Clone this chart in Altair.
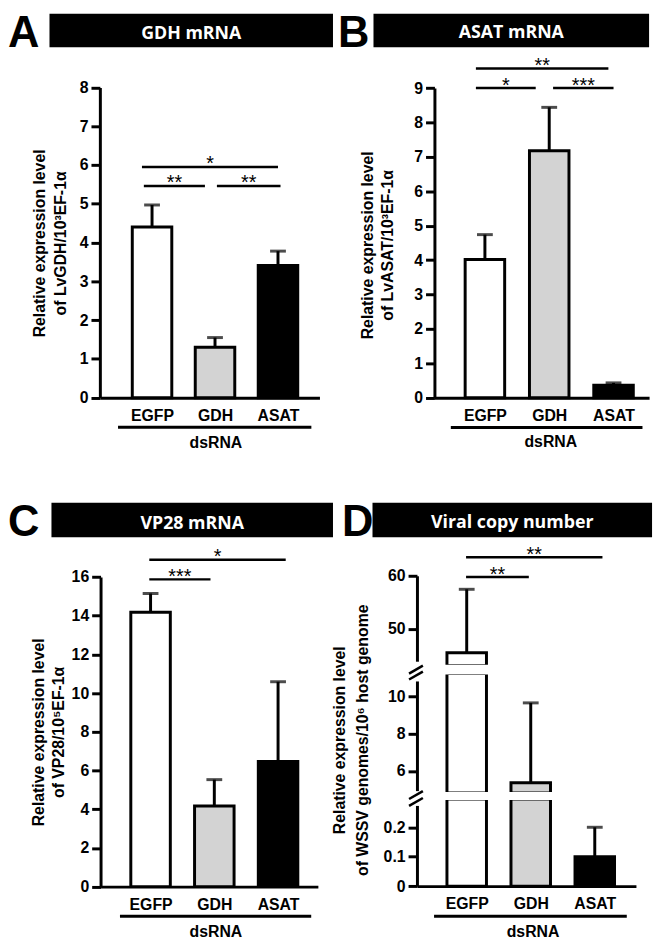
import json
import altair as alt
import pandas as pd

# ---------------- data ----------------
categories = ["EGFP", "GDH", "ASAT"]
bar_fills = ["#ffffff", "#d3d3d3", "#000000"]

panel_letters = ["A", "B", "C", "D"]
panel_titles = ["GDH mRNA", "ASAT mRNA", "VP28 mRNA", "Viral copy number"]
y_title_line1 = "Relative  expression  level"
y_title_line2 = ["of LvGDH/10³EF-1α", "of LvASAT/10³EF-1α",
                 "of VP28/10⁵EF-1α", "of WSSV genomes/10⁶  host genome"]
group_label = "dsRNA"

# A: GDH mRNA
gdh_mean = [4.40, 1.30, 3.41]
gdh_sd = [0.57, 0.25, 0.37]
# B: ASAT mRNA
asat_mean = [4.02, 7.18, 0.36]
asat_sd = [0.72, 1.26, 0.07]
# C: VP28 mRNA
vp28_mean = [14.18, 4.17, 6.47]
vp28_sd = [0.97, 1.36, 4.12]
# D: viral copy number
wssv_mean = [45.5, 5.37, 0.10]
wssv_sd = [11.95, 4.28, 0.10]

# significance brackets (category-index units), level and label
gdh_sig_from = [-0.13, 1.03, -0.16]
gdh_sig_to = [0.84, 2.04, 2.00]
gdh_sig_y = [5.46, 5.46, 5.95]
gdh_sig_text = ["**", "**", "*"]

asat_sig_from = [-0.14, 1.06, -0.14]
asat_sig_to = [0.79, 2.00, 1.92]
asat_sig_y = [9.0, 9.0, 9.57]
asat_sig_text = ["*", "***", "**"]

vp28_sig_from = [-0.02, -0.02]
vp28_sig_to = [0.94, 2.12]
vp28_sig_y = [15.88, 16.9]
vp28_sig_text = ["***", "*"]

wssv_sig_from = [-0.01, -0.01]
wssv_sig_to = [0.97, 2.12]
wssv_sig_y = [59.76, 63.48]
wssv_sig_text = ["**", "**"]

# axis ticks
gdh_ticks = list(range(0, 9))
asat_ticks = list(range(0, 10))
vp28_ticks = list(range(0, 17, 2))
wssv_ticks_high = [50, 60]
wssv_ticks_mid = [6, 8, 10]
wssv_ticks_low = [0, 0.1, 0.2]
# visible pieces of the broken axis in panel D
wssv_dom_high = [43.05, 60]
wssv_dom_mid = [4.82, 11.22]
wssv_dom_low = [0, 0.296]

# extent of the "dsRNA" group bracket (category-index units)
gdh_group = [-0.54, 2.53]
asat_group = [-0.53, 2.45]
vp28_group = [-0.48, 2.52]
wssv_group = [-0.51, 2.50]

# ---------------- style / layout ----------------
W, H = 656, 937
OFF = 8
FONT = "Liberation Sans"
INK = "black"
LABEL_EXPR = json.dumps(categories) + "[round(datum.value)]"


def c(v):
    return v - OFF


def y_axis(values, axis_px, title=None, tx=0, ty=0, lh=21):
    kw = dict(values=values, orient="left", offset=-c(axis_px),
              labelExpr="datum.value + ''",
              grid=False, domainColor=INK, domainWidth=3, tickColor=INK,
              tickWidth=3, tickSize=9, labelFont=FONT, labelFontWeight="bold",
              labelFontSize=16, labelColor=INK, labelPadding=3)
    if title is None:
        kw["title"] = None
    else:
        kw.update(title=title, titleX=tx, titleY=c(ty), titleAngle=270,
                  titleAlign="center", titleBaseline="alphabetic",
                  titleFont=FONT, titleFontWeight="bold", titleFontSize=16,
                  titleColor=INK, titleLineHeight=lh)
    return alt.Axis(**kw)


def x_axis(axis_py, title_px, title_dy):
    return alt.Axis(values=[0, 1, 2], orient="bottom", offset=c(axis_py) - H,
                    labelExpr=LABEL_EXPR, ticks=False, tickSize=0, grid=False,
                    domainColor=INK, domainWidth=3, labelFont=FONT,
                    labelFontWeight="bold", labelFontSize=16, labelColor=INK,
                    labelPadding=10, labelAngle=0, labelFlush=False,
                    title=group_label, titleX=c(title_px), titleY=title_dy,
                    titleAlign="center", titleBaseline="middle", titleFont=FONT,
                    titleFontWeight="bold", titleFontSize=16, titleColor=INK)


def scale(dom, rng_page):
    return alt.Scale(domain=dom, range=[c(v) for v in rng_page], nice=False, zero=False)


def panel(bar_df, err_df, sig_df, group_df, xs, xa, ys, ya, group_py):
    def ex(f):
        return alt.X(f + ":Q", scale=xs, axis=xa)

    def ey(f):
        return alt.Y(f + ":Q", scale=ys, axis=ya)

    layers = [
        alt.Chart(bar_df).mark_bar(size=40, stroke=INK, strokeWidth=3).encode(
            x=ex("idx"), y=ey("top"), y2="bot", fill=alt.Fill("fill:N", scale=None)),
    ]
    if err_df is not None and len(err_df):
        layers += [
            alt.Chart(err_df).mark_rule(color=INK, strokeWidth=3).encode(
                x=ex("idx"), y=ey("mean"), y2="upper"),
            alt.Chart(err_df).mark_tick(orient="horizontal", size=16, thickness=3,
                                        color=INK).encode(x=ex("idx"), y=ey("upper")),
        ]
    if sig_df is not None:
        layers += [
            alt.Chart(sig_df).mark_rule(color=INK, strokeWidth=2.5).encode(
                x=ex("from"), x2="to", y=ey("level")),
            alt.Chart(sig_df).mark_text(font=FONT, fontSize=20, color=INK, align="center",
                                        baseline="alphabetic", dy=3.5).encode(
                x=ex("mid"), y=ey("level"), text="stars:N"),
        ]
    if group_df is not None:
        layers.append(
            alt.Chart(group_df).mark_rule(color=INK, strokeWidth=3).encode(
                x=ex("from"), x2="to", y=alt.value(c(group_py))))
    return alt.layer(*layers)


def std_bars(mean):
    return pd.DataFrame({"idx": [0, 1, 2], "fill": bar_fills, "top": mean, "bot": [0, 0, 0]})


def errs(mean, sd):
    return pd.DataFrame({"idx": [0, 1, 2], "mean": mean,
                         "upper": [m + s for m, s in zip(mean, sd)]})


def sigs(frm, to, lev, txt):
    return pd.DataFrame({"from": frm, "to": to, "level": lev, "stars": txt,
                         "mid": [(a + b) / 2 for a, b in zip(frm, to)]})


def group(span):
    return pd.DataFrame({"from": [span[0]], "to": [span[1]]})


# ---- Panel A ----
pA = panel(std_bars(gdh_mean), errs(gdh_mean, gdh_sd),
           sigs(gdh_sig_from, gdh_sig_to, gdh_sig_y, gdh_sig_text), group(gdh_group),
           scale([-0.75, 2.58], [101, 323.3]), x_axis(396.7, 218, 45),
           scale([0, 8], [396.7, 82.7]),
           y_axis(gdh_ticks, 101, [y_title_line1, y_title_line2[0]], -56, 240, 21),
           426.7)
# ---- Panel B ----
pB = panel(std_bars(asat_mean), errs(asat_mean, asat_sd),
           sigs(asat_sig_from, asat_sig_to, asat_sig_y, asat_sig_text), group(asat_group),
           scale([-0.708, 2.476], [439.7, 657]), x_axis(396.7, 557, 44.5),
           scale([0, 9], [396.7, 83.3]),
           y_axis(asat_ticks, 439.7, [y_title_line1, y_title_line2[1]], -63, 242, 21),
           427)
# ---- Panel C ----
pC = panel(std_bars(vp28_mean), errs(vp28_mean, vp28_sd),
           sigs(vp28_sig_from, vp28_sig_to, vp28_sig_y, vp28_sig_text), group(vp28_group),
           scale([-0.707, 2.547], [101.7, 321.7]), x_axis(891.7, 218, 45.3),
           scale([0, 16], [891.7, 578.3]),
           y_axis(vp28_ticks, 101.7, [y_title_line1, y_title_line2[2]], -58, 735, 21),
           921.7)


# ---- Panel D (broken axis: three pieces) ----
def wssv_piece(dom):
    lo, hi = dom
    rows = [i for i in range(3) if wssv_mean[i] > lo]
    bar = pd.DataFrame({"idx": rows, "fill": [bar_fills[i] for i in rows],
                        "top": [min(wssv_mean[i], hi) for i in rows],
                        "bot": [max(lo, 0) for _ in rows]})
    ei = [i for i in range(3) if lo < wssv_mean[i] <= hi]
    err = pd.DataFrame({"idx": ei, "mean": [wssv_mean[i] for i in ei],
                        "upper": [wssv_mean[i] + wssv_sd[i] for i in ei]})
    return bar, err


xD = [-0.70, 2.566]
xDr = [422, 643.7]
b1, e1 = wssv_piece(wssv_dom_high)
pD1 = panel(b1, e1, sigs(wssv_sig_from, wssv_sig_to, wssv_sig_y, wssv_sig_text), None,
            scale(xD, xDr), None, scale(wssv_dom_high, [668, 577]),
            y_axis(wssv_ticks_high, 422), 0)
b2, e2 = wssv_piece(wssv_dom_mid)
pD2 = panel(b2, e2, None, None, scale(xD, xDr), None, scale(wssv_dom_mid, [797, 676]),
            y_axis(wssv_ticks_mid, 422, [y_title_line1, y_title_line2[3]], -73, 743, 23), 0)
b3, e3 = wssv_piece(wssv_dom_low)
pD3 = panel(b3, e3, None, group(wssv_group), scale(xD, xDr), x_axis(891.2, 539, 45.8),
            scale(wssv_dom_low, [891.2, 803]), y_axis(wssv_ticks_low, 422), 921.7)

# ---------------- decorations (pixel space) ----------------
def pix(df):
    return df.apply(lambda s: s.map(c) if s.dtype.kind in "fi" else s)


NX = dict(scale=None, axis=None)

hdr = pix(pd.DataFrame({"x": [50, 378, 52, 377], "x2": [337, 657, 337, 660],
                        "y": [8, 8, 503, 503], "y2": [42, 42, 538, 538]}))
hdr_boxes = alt.Chart(hdr).mark_rect(color=INK).encode(
    x=alt.X("x:Q", **NX), x2="x2", y=alt.Y("y:Q", **NX), y2="y2")

hdr_txt = pix(pd.DataFrame({"x": [193.5, 517.5, 194.5, 518.5],
                            "y": [33.3, 33.0, 529.3, 528.3]}))
hdr_txt["t"] = panel_titles
hdr_text = alt.Chart(hdr_txt).mark_text(font="Open Sans", fontWeight="bold", fontSize=18,
                                         color="white", align="center",
                                         baseline="alphabetic").encode(
    x=alt.X("x:Q", **NX), y=alt.Y("y:Q", **NX), text="t:N")

let = pix(pd.DataFrame({"x": [8, 342, 8, 346], "y": [42, 42, 537, 537]}))
let["t"] = panel_letters
letters = alt.Chart(let).mark_text(font=FONT, fontWeight="bold", fontSize=44, color=INK,
                                   align="left", baseline="alphabetic").encode(
    x=alt.X("x:Q", **NX), y=alt.Y("y:Q", **NX), text="t:N")

# white gaps of the broken axis
gaps = pix(pd.DataFrame({"x": [415, 430, 415, 430], "x2": [430, 648, 430, 648],
                         "y": [664, 667, 795, 796], "y2": [684, 677, 810, 804]}))
gap_rects = alt.Chart(gaps).mark_rect(color="white").encode(
    x=alt.X("x:Q", **NX), x2="x2", y=alt.Y("y:Q", **NX), y2="y2")

sl = pix(pd.DataFrame({"x": [414, 414, 414, 414], "x2": [428, 428, 428, 428],
                       "y": [676, 682, 803, 810], "y2": [668, 674, 795, 802]}))
slashes = alt.Chart(sl).mark_rule(color=INK, strokeWidth=2.5).encode(
    x=alt.X("x:Q", **NX), x2="x2", y=alt.Y("y:Q", **NX), y2="y2")

chart = (
    alt.layer(pA, pB, pC, pD1, pD2, pD3, hdr_boxes, hdr_text, letters, gap_rects, slashes)
    .resolve_scale(x="independent", y="independent")
    .properties(width=W, height=H, padding=0, autosize=alt.AutoSizeParams(type="none"),
                background="white")
    .configure_view(stroke=None)
    .configure_axis(grid=False)
)

chart.save("out.html", embed_options={"renderer": "svg", "actions": False})
